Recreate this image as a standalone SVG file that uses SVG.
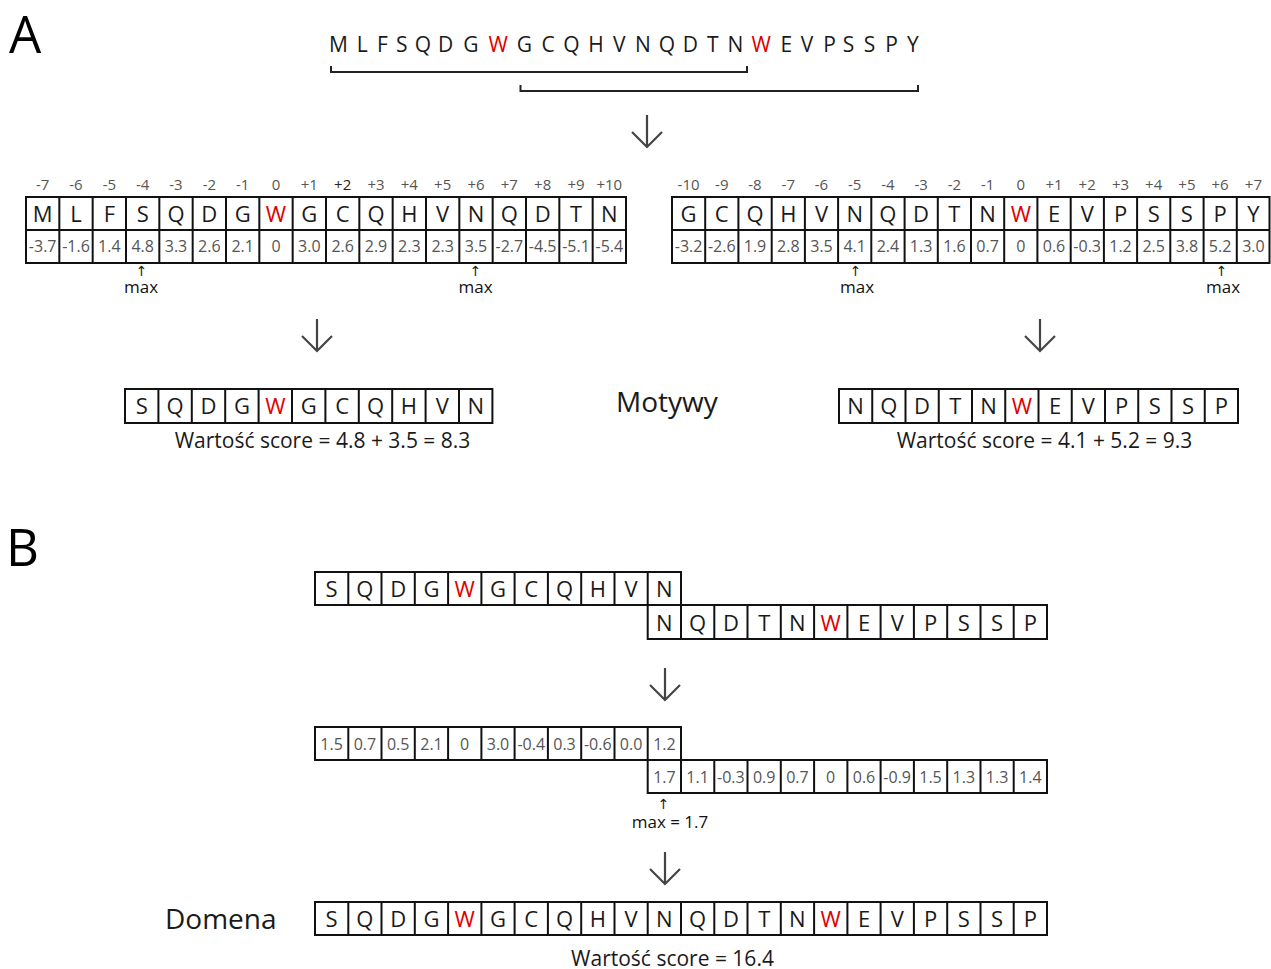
<svg xmlns="http://www.w3.org/2000/svg" width="1271" height="969" viewBox="0 0 1271 969">
<style>
text{font-family:"Open Sans","Noto Sans","DejaVu Sans",sans-serif}
.big{font-size:51px;fill:#000}
.seq{font-size:21px;fill:#1a1a1a;text-anchor:middle}
.let{font-size:22px;fill:#1a1a1a;text-anchor:middle}
.red{fill:#e00000}
.val{font-size:16px;fill:#555;text-anchor:middle}
.hdr{font-size:15px;fill:#555;text-anchor:middle}
.max{font-size:17px;fill:#111;text-anchor:middle}
.up{font-family:"DejaVu Sans",sans-serif;font-size:14px;fill:#222;text-anchor:middle}
.score{font-size:21px;fill:#1a1a1a;text-anchor:middle}
.title{font-size:28px;fill:#1a1a1a}
.grid{fill:none;stroke:#111;stroke-width:2}
.brk{fill:none;stroke:#222;stroke-width:2}
.arr{fill:none;stroke:#444;stroke-width:2.2}
</style>
<rect width="1271" height="969" fill="#fff"/>

<text class="big" x="9" y="53">A</text>
<text class="big" x="6" y="566">B</text>

<g id="sequence">
<text class="seq" y="52"><tspan x="338.4 362.3 382.5 401.8 422.8 445.7 471">MLFSQDG</tspan><tspan class="red" x="498.3">W</tspan><tspan x="524.3 548 571.4 595.9 619.2 642.9 667 690.4 712.9 735.4">GCQHVNQDTN</tspan><tspan class="red" x="761.1">W</tspan><tspan x="786.4 807 829.5 848.5 869.4 891.5 912.9">EVPSSPY</tspan></text>
<path class="brk" d="M331 66V72H747V66"/>
<path class="brk" d="M520.5 85V91H918V85"/>
</g>

<g id="connectors">
<path class="arr" d="M647 115V147M632 132L647 147L662 132"/>
<path class="arr" d="M317 319V351M302 336L317 351L332 336"/>
<path class="arr" d="M1040 319V351M1025 336L1040 351L1055 336"/>
<path class="arr" d="M665 668V700M650 685L665 700L680 685"/>
<path class="arr" d="M665 852V884M650 869L665 884L680 869"/>
</g>

<g id="tableA1">
<text class="hdr" y="190"><tspan x="42.67">-7</tspan><tspan x="76">-6</tspan><tspan x="109.33">-5</tspan><tspan x="142.67">-4</tspan><tspan x="176">-3</tspan><tspan x="209.33">-2</tspan><tspan x="242.67">-1</tspan><tspan x="276">0</tspan><tspan x="309.33">+1</tspan><tspan x="342.67" fill="#222">+2</tspan><tspan x="376">+3</tspan><tspan x="409.33">+4</tspan><tspan x="442.67">+5</tspan><tspan x="476">+6</tspan><tspan x="509.33">+7</tspan><tspan x="542.67">+8</tspan><tspan x="576">+9</tspan><tspan x="609.33">+10</tspan></text>
<path class="grid" d="M26 197H626V263H26ZM26 230H626M59.33 197V263M92.67 197V263M126 197V263M159.33 197V263M192.67 197V263M226 197V263M259.33 197V263M292.67 197V263M326 197V263M359.33 197V263M392.67 197V263M426 197V263M459.33 197V263M492.67 197V263M526 197V263M559.33 197V263M592.67 197V263"/>
<text class="let" y="221.5"><tspan x="42.67 76 109.33 142.67 176 209.33 242.67">MLFSQDG</tspan><tspan class="red" x="276">W</tspan><tspan x="309.33 342.67 376 409.33 442.67 476 509.33 542.67 576 609.33">GCQHVNQDTN</tspan></text>
<text class="val" y="252"><tspan x="42.67">-3.7</tspan><tspan x="76">-1.6</tspan><tspan x="109.33">1.4</tspan><tspan x="142.67">4.8</tspan><tspan x="176">3.3</tspan><tspan x="209.33">2.6</tspan><tspan x="242.67">2.1</tspan><tspan x="276">0</tspan><tspan x="309.33">3.0</tspan><tspan x="342.67">2.6</tspan><tspan x="376">2.9</tspan><tspan x="409.33">2.3</tspan><tspan x="442.67">2.3</tspan><tspan x="476">3.5</tspan><tspan x="509.33">-2.7</tspan><tspan x="542.67">-4.5</tspan><tspan x="576">-5.1</tspan><tspan x="609.33">-5.4</tspan></text>
<text class="up" x="141.5" y="276">↑</text><text class="max" x="141" y="293">max</text>
<text class="up" x="475.5" y="276">↑</text><text class="max" x="475.5" y="293">max</text>
</g>

<g id="tableA2">
<text class="hdr" y="190"><tspan x="688.6">-10</tspan><tspan x="721.8">-9</tspan><tspan x="755">-8</tspan><tspan x="788.3">-7</tspan><tspan x="821.5">-6</tspan><tspan x="854.7">-5</tspan><tspan x="887.9">-4</tspan><tspan x="921.1">-3</tspan><tspan x="954.4">-2</tspan><tspan x="987.6">-1</tspan><tspan x="1020.8">0</tspan><tspan x="1054">+1</tspan><tspan x="1087.2">+2</tspan><tspan x="1120.5">+3</tspan><tspan x="1153.7">+4</tspan><tspan x="1186.9">+5</tspan><tspan x="1220.1">+6</tspan><tspan x="1253.4">+7</tspan></text>
<path class="grid" d="M672 197H1269.5V263H672ZM672 230H1269.5M705.2 197V263M738.4 197V263M771.7 197V263M804.9 197V263M838.1 197V263M871.3 197V263M904.6 197V263M937.8 197V263M971 197V263M1004.2 197V263M1037.4 197V263M1070.7 197V263M1103.9 197V263M1137.1 197V263M1170.3 197V263M1203.6 197V263M1236.8 197V263"/>
<text class="let" y="221.5"><tspan x="688.6 721.8 755 788.3 821.5 854.7 887.9 921.1 954.4 987.6">GCQHVNQDTN</tspan><tspan class="red" x="1020.8">W</tspan><tspan x="1054 1087.2 1120.5 1153.7 1186.9 1220.1 1253.4">EVPSSPY</tspan></text>
<text class="val" y="252"><tspan x="688.6">-3.2</tspan><tspan x="721.8">-2.6</tspan><tspan x="755">1.9</tspan><tspan x="788.3">2.8</tspan><tspan x="821.5">3.5</tspan><tspan x="854.7">4.1</tspan><tspan x="887.9">2.4</tspan><tspan x="921.1">1.3</tspan><tspan x="954.4">1.6</tspan><tspan x="987.6">0.7</tspan><tspan x="1020.8">0</tspan><tspan x="1054">0.6</tspan><tspan x="1087.2">-0.3</tspan><tspan x="1120.5">1.2</tspan><tspan x="1153.7">2.5</tspan><tspan x="1186.9">3.8</tspan><tspan x="1220.1">5.2</tspan><tspan x="1253.4">3.0</tspan></text>
<text class="up" x="855.5" y="276">↑</text><text class="max" x="857" y="293">max</text>
<text class="up" x="1221.5" y="276">↑</text><text class="max" x="1223" y="293">max</text>
</g>

<g id="motif1">
<path class="grid" d="M125 389H492.4V423H125ZM158.4 389V423M191.8 389V423M225.2 389V423M258.6 389V423M292 389V423M325.4 389V423M358.8 389V423M392.2 389V423M425.6 389V423M459 389V423"/>
<text class="let" y="414"><tspan x="141.7 175.1 208.5 241.9">SQDG</tspan><tspan class="red" x="275.3">W</tspan><tspan x="308.7 342.1 375.5 408.9 442.3 475.7">GCQHVN</tspan></text>
<text class="score" x="322.5" y="448">Wartość score = 4.8 + 3.5 = 8.3</text>
</g>

<g id="motywy">
<text class="title" x="616" y="412">Motywy</text>
</g>

<g id="motif2">
<path class="grid" d="M839 389H1238V423H839ZM872.25 389V423M905.5 389V423M938.75 389V423M972 389V423M1005.25 389V423M1038.5 389V423M1071.75 389V423M1105 389V423M1138.25 389V423M1171.5 389V423M1204.75 389V423"/>
<text class="let" y="414"><tspan x="855.6 888.9 922.1 955.4 988.6">NQDTN</tspan><tspan class="red" x="1021.9">W</tspan><tspan x="1055.1 1088.4 1121.6 1154.9 1188.1 1221.4">EVPSSP</tspan></text>
<text class="score" x="1044.5" y="448">Wartość score = 4.1 + 5.2 = 9.3</text>
</g>

<g id="alignB">
<path class="grid" d="M315 572H681V605H315ZM348.3 572V605M381.5 572V605M414.8 572V605M448.1 572V605M481.4 572V605M514.6 572V605M547.9 572V605M581.2 572V605M614.5 572V605M647.7 572V605"/>
<path class="grid" d="M647.7 605H1047V639H647.7ZM681 605V639M714.3 605V639M747.5 605V639M780.8 605V639M814.1 605V639M847.4 605V639M880.6 605V639M913.9 605V639M947.2 605V639M980.5 605V639M1013.7 605V639"/>
<text class="let" y="596.5"><tspan x="331.6 364.9 398.2 431.5">SQDG</tspan><tspan class="red" x="464.7">W</tspan><tspan x="498 531.3 564.5 597.8 631.1 664.4">GCQHVN</tspan></text>
<text class="let" y="630.5"><tspan x="664.4 697.6 730.9 764.2 797.4">NQDTN</tspan><tspan class="red" x="830.7">W</tspan><tspan x="864 897.2 930.5 963.8 997.1 1030.3">EVPSSP</tspan></text>
</g>

<g id="valuesB">
<path class="grid" d="M315 727H681V760H315ZM348.3 727V760M381.5 727V760M414.8 727V760M448.1 727V760M481.4 727V760M514.6 727V760M547.9 727V760M581.2 727V760M614.5 727V760M647.7 727V760"/>
<path class="grid" d="M647.7 760H1047V793H647.7ZM681 760V793M714.3 760V793M747.5 760V793M780.8 760V793M814.1 760V793M847.4 760V793M880.6 760V793M913.9 760V793M947.2 760V793M980.5 760V793M1013.7 760V793"/>
<text class="val" y="749.5"><tspan x="331.6">1.5</tspan><tspan x="364.9">0.7</tspan><tspan x="398.2">0.5</tspan><tspan x="431.5">2.1</tspan><tspan x="464.7">0</tspan><tspan x="498">3.0</tspan><tspan x="531.3">-0.4</tspan><tspan x="564.5">0.3</tspan><tspan x="597.8">-0.6</tspan><tspan x="631.1">0.0</tspan><tspan x="664.4">1.2</tspan></text>
<text class="val" y="782.5"><tspan x="664.4">1.7</tspan><tspan x="697.6">1.1</tspan><tspan x="730.9">-0.3</tspan><tspan x="764.2">0.9</tspan><tspan x="797.4">0.7</tspan><tspan x="830.7">0</tspan><tspan x="864">0.6</tspan><tspan x="897.2">-0.9</tspan><tspan x="930.5">1.5</tspan><tspan x="963.8">1.3</tspan><tspan x="997.1">1.3</tspan><tspan x="1030.3">1.4</tspan></text>
<text class="up" x="663.5" y="809">↑</text>
<text class="max" x="670" y="828">max = 1.7</text>
</g>

<g id="domena">
<text class="title" x="165" y="929">Domena</text>
<path class="grid" d="M315 902H1047V935H315ZM348.3 902V935M381.5 902V935M414.8 902V935M448.1 902V935M481.4 902V935M514.6 902V935M547.9 902V935M581.2 902V935M614.5 902V935M647.7 902V935M681 902V935M714.3 902V935M747.5 902V935M780.8 902V935M814.1 902V935M847.4 902V935M880.6 902V935M913.9 902V935M947.2 902V935M980.5 902V935M1013.7 902V935"/>
<text class="let" y="926.5"><tspan x="331.6 364.9 398.2 431.5">SQDG</tspan><tspan class="red" x="464.7">W</tspan><tspan x="498 531.3 564.5 597.8 631.1 664.4 697.6 730.9 764.2 797.4">GCQHVNQDTN</tspan><tspan class="red" x="830.7">W</tspan><tspan x="864 897.2 930.5 963.8 997.1 1030.3">EVPSSP</tspan></text>
<text class="score" x="672.5" y="966">Wartość score = 16.4</text>
</g>
</svg>
